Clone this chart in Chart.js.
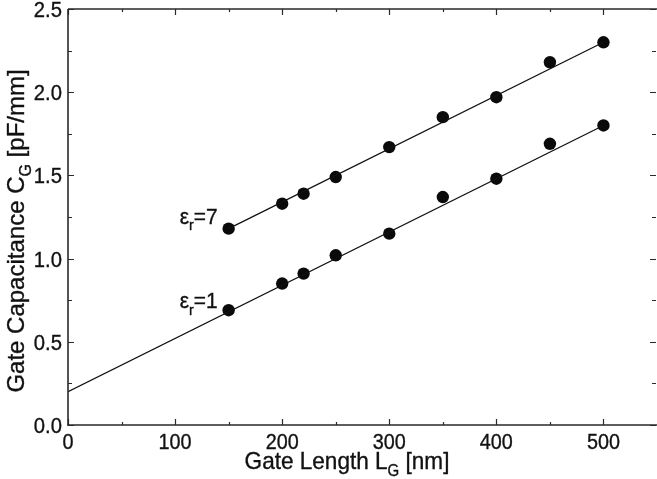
<!DOCTYPE html>
<html>
<head>
<meta charset="utf-8">
<script src="https://cdn.jsdelivr.net/npm/chart.js@4.4.1/dist/chart.umd.min.js"></script>
<style>
  html, body { margin: 0; padding: 0; background: #fff; }
  #wrap { width: 657px; height: 479px; }
</style>
</head>
<body>
<div id="wrap"><canvas id="c" width="657" height="479"></canvas></div>
<script>
// Gate capacitance vs. gate length for two dielectric constants
const gateLength = [150, 200, 220, 250, 300, 350, 400, 450, 500];
const capEr7 = [1.18, 1.33, 1.39, 1.49, 1.67, 1.85, 1.97, 2.18, 2.30];
const capEr1 = [0.69, 0.85, 0.91, 1.02, 1.15, 1.37, 1.48, 1.69, 1.80];

// Linear fits (end points)
const fitEr7X = [150, 500];
const fitEr7Y = [1.18, 2.30];
const fitEr1X = [0, 500];
const fitEr1Y = [0.20, 1.80];

// Axis ticks
const xTickValues = [0, 100, 200, 300, 400, 500];
const xTickLabels = ['0', '100', '200', '300', '400', '500'];
const xMinorTicks = [50, 150, 250, 350, 450];
const yTickValues = [0, 0.5, 1.0, 1.5, 2.0, 2.5];
const yTickLabels = ['0.0', '0.5', '1.0', '1.5', '2.0', '2.5'];
const yMinorTicks = [0.25, 0.75, 1.25, 1.75, 2.25];

const seriesLabels = [
  [{ t: 'ε' }, { t: 'r', sub: true }, { t: '=7' }],
  [{ t: 'ε' }, { t: 'r', sub: true }, { t: '=1' }]
];

const FONT = "'Liberation Sans', Arial, Helvetica, sans-serif";
const INK = '#111';

const pts = (xs, ys) => xs.map((x, i) => ({ x: x, y: ys[i] }));

// Draws text made of normal and subscript runs; sx squeezes horizontally
function drawRuns(ctx, runs, x, y, size, align, sx) {
  sx = sx || 1;
  const subSize = Math.round(size * 0.66);
  const widths = runs.map(r => {
    ctx.font = (r.sub ? subSize : size) + 'px ' + FONT;
    return ctx.measureText(r.t).width;
  });
  const total = widths.reduce((a, b) => a + b, 0) * sx;
  let start = x;
  if (align === 'center') start = x - total / 2;
  else if (align === 'right') start = x - total;
  ctx.save();
  ctx.translate(start, y);
  ctx.scale(sx, 1);
  ctx.strokeStyle = INK;
  ctx.lineWidth = 0.35;
  let cx = 0;
  runs.forEach((r, i) => {
    ctx.font = (r.sub ? subSize : size) + 'px ' + FONT;
    ctx.textAlign = 'left';
    ctx.textBaseline = 'alphabetic';
    const dy = r.sub ? size * 0.3 : 0;
    ctx.fillText(r.t, cx, dy);
    ctx.strokeText(r.t, cx, dy);
    cx += widths[i];
  });
  ctx.restore();
}

const framePlugin = {
  id: 'frame',
  afterDatasetsDraw(chart) {
    const { ctx, chartArea: a, scales } = chart;
    const xs = scales.x, ys = scales.y;
    ctx.save();
    ctx.fillStyle = INK;

    // frame
    ctx.strokeStyle = '#2a2a2a';
    ctx.lineWidth = 1.6;
    ctx.beginPath();
    ctx.moveTo(a.left, a.top); ctx.lineTo(a.right, a.top);
    ctx.moveTo(a.left, a.top); ctx.lineTo(a.left, a.bottom);
    ctx.moveTo(a.left - 1, a.bottom); ctx.lineTo(a.right, a.bottom);
    ctx.stroke();

    // inward tick marks on all four sides
    ctx.lineWidth = 1.2;
    const tickX = (v, len) => {
      const p = Math.round(xs.getPixelForValue(v)) + 0.5;
      ctx.beginPath();
      ctx.moveTo(p, a.bottom); ctx.lineTo(p, a.bottom - len);
      ctx.moveTo(p, a.top); ctx.lineTo(p, a.top + len);
      ctx.stroke();
    };
    const tickY = (v, len) => {
      const p = Math.round(ys.getPixelForValue(v)) + 0.5;
      ctx.beginPath();
      ctx.moveTo(a.left, p); ctx.lineTo(a.left + len, p);
      ctx.moveTo(a.right - 1, p); ctx.lineTo(a.right - 1 - len, p);
      ctx.stroke();
    };
    xTickValues.forEach(v => tickX(v, 6));
    xMinorTicks.forEach(v => tickX(v, 3));
    yTickValues.forEach(v => tickY(v, 6));
    yMinorTicks.forEach(v => tickY(v, 4));

    // tick labels
    xTickValues.forEach((v, i) => {
      drawRuns(ctx, [{ t: xTickLabels[i] }], xs.getPixelForValue(v), a.bottom + 24, 22, 'center', 0.9);
    });
    yTickValues.forEach((v, i) => {
      drawRuns(ctx, [{ t: yTickLabels[i] }], a.left - 6, ys.getPixelForValue(v) + 8, 22, 'right', 0.92);
    });

    // axis titles
    drawRuns(ctx, [{ t: 'Gate Length L' }, { t: 'G', sub: true }, { t: ' [nm]' }],
      347, 469, 24, 'center', 0.94);
    ctx.save();
    ctx.translate(24, 231);
    ctx.rotate(-Math.PI / 2);
    drawRuns(ctx, [{ t: 'Gate Capacitance C' }, { t: 'G', sub: true }, { t: ' [pF/mm]' }],
      0, 0, 24, 'center', 1);
    ctx.restore();

    // series labels beside the first point of each set
    const firstX = xs.getPixelForValue(gateLength[0]);
    drawRuns(ctx, seriesLabels[0], firstX - 11, ys.getPixelForValue(capEr7[0]) - 5, 22, 'right', 0.95);
    drawRuns(ctx, seriesLabels[1], firstX - 11, ys.getPixelForValue(capEr1[0]) - 2, 22, 'right', 0.95);

    ctx.restore();
  }
};

new Chart(document.getElementById('c'), {
  type: 'scatter',
  data: {
    datasets: [
      {
        label: 'fit εr=7', data: pts(fitEr7X, fitEr7Y), showLine: true,
        borderColor: '#111', borderWidth: 1.3, pointRadius: 0, fill: false
      },
      {
        label: 'fit εr=1', data: pts(fitEr1X, fitEr1Y), showLine: true,
        borderColor: '#111', borderWidth: 1.3, pointRadius: 0, fill: false
      },
      {
        label: 'εr=7', data: pts(gateLength, capEr7), showLine: false,
        pointRadius: 6.2, pointBackgroundColor: '#0a0a0a', pointBorderColor: '#0a0a0a', pointBorderWidth: 0
      },
      {
        label: 'εr=1', data: pts(gateLength, capEr1), showLine: false,
        pointRadius: 6.2, pointBackgroundColor: '#0a0a0a', pointBorderColor: '#0a0a0a', pointBorderWidth: 0
      }
    ]
  },
  options: {
    responsive: false,
    devicePixelRatio: 1,
    animation: false,
    layout: { autoPadding: false, padding: { left: 68, top: 9, right: 0, bottom: 54 } },
    plugins: { legend: { display: false }, tooltip: { enabled: false } },
    scales: {
      x: {
        type: 'linear', min: 0, max: 550,
        grid: { display: false, drawTicks: false, tickLength: 0 },
        border: { display: false },
        ticks: { display: false },
        afterFit(s) { s.height = 0; s.paddingLeft = 0; s.paddingRight = 0; }
      },
      y: {
        type: 'linear', min: 0, max: 2.5,
        grid: { display: false, drawTicks: false, tickLength: 0 },
        border: { display: false },
        ticks: { display: false },
        afterFit(s) { s.width = 0; s.paddingTop = 0; s.paddingBottom = 0; }
      }
    }
  },
  plugins: [framePlugin]
});
</script>
</body>
</html>
